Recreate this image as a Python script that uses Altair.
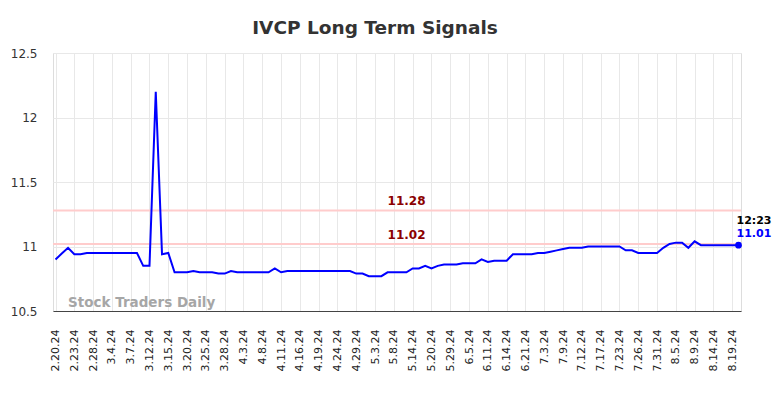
import altair as alt
import pandas as pd

dates = [
    "2.20.24", "2.21.24", "2.22.24", "2.23.24", "2.26.24", "2.27.24", "2.28.24", "2.29.24", "3.1.24", "3.4.24",
    "3.5.24", "3.6.24", "3.7.24", "3.8.24", "3.11.24", "3.12.24", "3.13.24", "3.14.24", "3.15.24", "3.18.24",
    "3.19.24", "3.20.24", "3.21.24", "3.22.24", "3.25.24", "3.26.24", "3.27.24", "3.28.24", "4.1.24", "4.2.24",
    "4.3.24", "4.4.24", "4.5.24", "4.8.24", "4.9.24", "4.10.24", "4.11.24", "4.12.24", "4.15.24", "4.16.24",
    "4.17.24", "4.18.24", "4.19.24", "4.22.24", "4.23.24", "4.24.24", "4.25.24", "4.26.24", "4.29.24", "4.30.24",
    "5.1.24", "5.3.24", "5.6.24", "5.7.24", "5.8.24", "5.9.24", "5.10.24", "5.14.24", "5.15.24", "5.17.24",
    "5.20.24", "5.22.24", "5.24.24", "5.29.24", "5.31.24", "6.3.24", "6.5.24", "6.6.24", "6.10.24", "6.11.24",
    "6.12.24", "6.13.24", "6.14.24", "6.17.24", "6.18.24", "6.21.24", "6.26.24", "7.1.24", "7.3.24", "7.5.24",
    "7.8.24", "7.9.24", "7.10.24", "7.11.24", "7.12.24", "7.15.24", "7.16.24", "7.17.24", "7.18.24", "7.22.24",
    "7.23.24", "7.24.24", "7.25.24", "7.26.24", "7.29.24", "7.30.24", "7.31.24", "8.1.24", "8.2.24", "8.5.24",
    "8.7.24", "8.8.24", "8.9.24", "8.12.24", "8.13.24", "8.14.24", "8.15.24", "8.16.24", "8.19.24", "8.20.24",
]

prices = [
    10.90, 10.945, 10.99, 10.94, 10.94, 10.95, 10.95, 10.95, 10.95, 10.95,
    10.95, 10.95, 10.95, 10.95, 10.85, 10.85, 12.20, 10.94, 10.95, 10.80,
    10.80, 10.80, 10.81, 10.80, 10.80, 10.80, 10.79, 10.79, 10.81, 10.80,
    10.80, 10.80, 10.80, 10.80, 10.80, 10.83, 10.80, 10.81, 10.81, 10.81,
    10.81, 10.81, 10.81, 10.81, 10.81, 10.81, 10.81, 10.81, 10.79, 10.79,
    10.77, 10.77, 10.77, 10.80, 10.80, 10.80, 10.80, 10.83, 10.83, 10.85,
    10.83, 10.85, 10.86, 10.86, 10.86, 10.87, 10.87, 10.87, 10.90, 10.88,
    10.89, 10.89, 10.89, 10.94, 10.94, 10.94, 10.94, 10.95, 10.95, 10.96,
    10.97, 10.98, 10.99, 10.99, 10.99, 11.00, 11.00, 11.00, 11.00, 11.00,
    11.00, 10.97, 10.97, 10.95, 10.95, 10.95, 10.95, 10.99, 11.02, 11.03,
    11.03, 10.99, 11.04, 11.01, 11.01, 11.01, 11.01, 11.01, 11.01, 11.01,
]

tick_dates = dates[0:109:3]
y_ticks = [10.5, 11, 11.5, 12, 12.5]
signal_levels = [11.28, 11.02]
signal_labels = ["11.28", "11.02"]
signal_label_date = dates[53]
last_time = "12:23"
last_price = "11.01"
watermark = "Stock Traders Daily"

FONT = "DejaVu Sans"

df = pd.DataFrame({"date": dates, "price": prices})
levels_df = pd.DataFrame({"level": signal_levels, "label": signal_labels, "date": [signal_label_date] * 2})
last_df = df.tail(1).copy()
last_df["time"] = last_time
last_df["plabel"] = last_price
wm_df = pd.DataFrame({"date": [dates[2]], "price": [10.565], "text": [watermark]})

x_scale = alt.Scale(type="point", padding=0.4, domain=dates)
x_enc = alt.X(
    "date:O",
    sort=None,
    scale=x_scale,
    axis=alt.Axis(
        values=tick_dates,
        labelAngle=-90,
        labelFont=FONT,
        labelFontSize=11,
        labelColor="#222",
        labelPadding=18,
        ticks=False,
        grid=True,
        gridColor="#e8e8e8",
        domain=True,
        domainColor="#444",
        domainWidth=1.2,
        title=None,
    ),
)
y_scale = alt.Scale(domain=[10.5, 12.5], nice=False, zero=False)
y_enc = alt.Y(
    "price:Q",
    scale=y_scale,
    axis=alt.Axis(
        values=y_ticks,
        format=".1~f",
        labelFont=FONT,
        labelFontSize=12,
        labelColor="#333",
        labelPadding=16,
        ticks=False,
        grid=True,
        gridColor="#e8e8e8",
        domain=False,
        title=None,
    ),
)


def xe():
    return alt.X("date:O", sort=None, scale=x_scale)


def ye(field):
    return alt.Y(field, scale=y_scale)


line = alt.Chart(df).mark_line(color="#0000ff", strokeWidth=2).encode(x=x_enc, y=y_enc)

rules = alt.Chart(levels_df).mark_rule(color="#ffcccc", strokeWidth=2).encode(y=ye("level:Q"))
rule_text = alt.Chart(levels_df).mark_text(
    font=FONT, fontSize=12, fontWeight="bold", color="#8b0000", align="left", baseline="bottom", dy=-2
).encode(x=xe(), y=ye("level:Q"), text="label:N")

wm = alt.Chart(wm_df).mark_text(
    font=FONT, fontSize=13.5, fontWeight="bold", color="#a6a6a6", align="left", baseline="middle"
).encode(x=xe(), y=ye("price:Q"), text="text:N")

last_pt = alt.Chart(last_df).mark_circle(color="#0000ff", size=45, opacity=1).encode(x=xe(), y=ye("price:Q"))
last_time_txt = alt.Chart(last_df).mark_text(
    font=FONT, fontSize=11, fontWeight="bold", color="#000000", align="left", baseline="middle", dx=-2, dy=-24
).encode(x=xe(), y=ye("price:Q"), text="time:N")
last_price_txt = alt.Chart(last_df).mark_text(
    font=FONT, fontSize=11, fontWeight="bold", color="#0000ff", align="left", baseline="middle", dx=-2, dy=-11
).encode(x=xe(), y=ye("price:Q"), text="plabel:N")

chart = alt.layer(rules, line, rule_text, wm, last_pt, last_time_txt, last_price_txt).properties(
    width=688,
    height=258,
    autosize=alt.AutoSizeParams(type="none"),
    padding={"left": 45, "top": 45, "right": 35, "bottom": 79},
    title=alt.TitleParams(
        "IVCP Long Term Signals",
        font=FONT,
        fontSize=18.5,
        fontWeight="bold",
        color="#333333",
        anchor="middle",
        dx=-22,
        offset=10,
    ),
).configure_view(stroke=None).configure(background="white")

chart.save("out.html", embed_options={"renderer": "svg", "actions": False})
